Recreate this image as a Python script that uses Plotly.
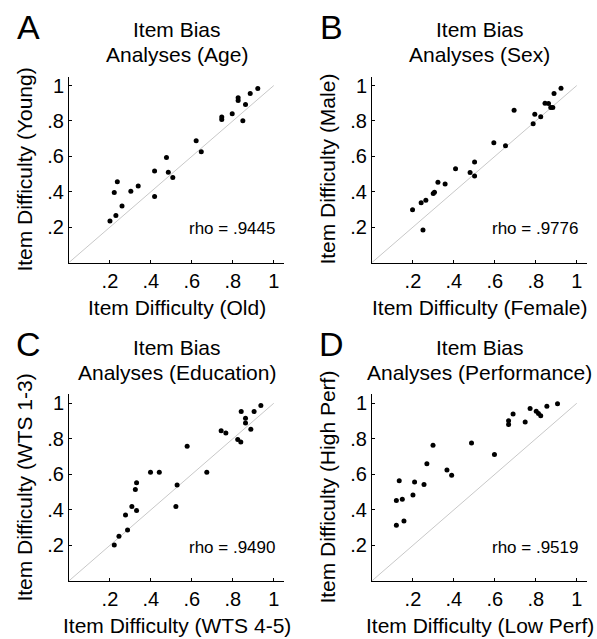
import plotly.graph_objects as go

# Panel A: Age
a_old = [0.200, 0.229, 0.221, 0.236, 0.259, 0.302, 0.338, 0.418, 0.418, 0.476, 0.485, 0.507,
         0.621, 0.646, 0.746, 0.746, 0.797, 0.826, 0.826, 0.849, 0.862, 0.885, 0.922]
a_young = [0.234, 0.266, 0.395, 0.457, 0.320, 0.403, 0.433, 0.373, 0.517, 0.594, 0.510, 0.480,
           0.688, 0.626, 0.822, 0.808, 0.840, 0.931, 0.916, 0.801, 0.893, 0.955, 0.983]
# Panel B: Sex
b_female = [0.198, 0.240, 0.249, 0.263, 0.299, 0.305, 0.322, 0.357, 0.408, 0.479, 0.501, 0.501,
            0.595, 0.652, 0.694, 0.787, 0.795, 0.824, 0.845, 0.862, 0.873, 0.883, 0.889, 0.923]
b_male = [0.298, 0.337, 0.183, 0.352, 0.390, 0.397, 0.453, 0.444, 0.530, 0.508, 0.568, 0.489,
          0.677, 0.660, 0.861, 0.784, 0.838, 0.823, 0.900, 0.898, 0.876, 0.876, 0.955, 0.985]
# Panel C: Education
c_wts45 = [0.221, 0.244, 0.276, 0.286, 0.307, 0.324, 0.330, 0.330, 0.398, 0.441, 0.522, 0.528,
           0.577, 0.673, 0.743, 0.766, 0.824, 0.839, 0.841, 0.862, 0.862, 0.888, 0.904, 0.937]
c_wts13 = [0.202, 0.251, 0.371, 0.286, 0.419, 0.515, 0.553, 0.396, 0.611, 0.611, 0.419, 0.540,
           0.758, 0.611, 0.845, 0.832, 0.796, 0.782, 0.953, 0.916, 0.889, 0.853, 0.953, 0.988]
# Panel D: Performance
d_low = [0.119, 0.119, 0.133, 0.148, 0.156, 0.200, 0.208, 0.254, 0.268, 0.298, 0.366, 0.389,
         0.486, 0.598, 0.667, 0.667, 0.689, 0.748, 0.772, 0.802, 0.813, 0.824, 0.854, 0.906]
d_high = [0.453, 0.313, 0.564, 0.459, 0.337, 0.484, 0.557, 0.542, 0.660, 0.763, 0.624, 0.594,
          0.776, 0.711, 0.902, 0.880, 0.940, 0.895, 0.970, 0.955, 0.942, 0.930, 0.983, 0.998]

tick_vals = [0.2, 0.4, 0.6, 0.8, 1.0]
tick_text = [".2", ".4", ".6", ".8", "1"]
diag = [0, 1]

panels = [
    ("A", "Item Bias", "Analyses (Age)", a_old, a_young, "Item Difficulty (Old)", "Item Difficulty (Young)", "rho = .9445"),
    ("B", "Item Bias", "Analyses (Sex)", b_female, b_male, "Item Difficulty (Female)", "Item Difficulty (Male)", "rho = .9776"),
    ("C", "Item Bias", "Analyses (Education)", c_wts45, c_wts13, "Item Difficulty (WTS 4-5)", "Item Difficulty (WTS 1-3)", "rho = .9490"),
    ("D", "Item Bias", "Analyses (Performance)", d_low, d_high, "Item Difficulty (Low Perf)", "Item Difficulty (High Perf)", "rho = .9519"),
]

W, H = 597, 639
xpx = [(69, 284), (372, 587)]
ypx = [(76.7, 262.5), (394.4, 580.8)]
xdoms = [[a / W, b / W] for a, b in xpx]
ydoms = [[1 - b / H, 1 - a / H] for a, b in ypx]

FONT = "Liberation Sans, Arial, sans-serif"


def px_x(p):
    return p / W


def px_y(p):
    return 1 - p / H


fig = go.Figure()
annotations = []
layout = {}
for i, (letter, t1, t2, xs, ys, xt, yt, rho) in enumerate(panels):
    col, row = i % 2, i // 2
    n = "" if i == 0 else str(i + 1)
    xa, ya = "x" + n, "y" + n
    fig.add_trace(go.Scatter(x=diag, y=diag, mode="lines", xaxis=xa, yaxis=ya,
                             line=dict(color="#c8c8c8", width=1), hoverinfo="skip", showlegend=False))
    fig.add_trace(go.Scatter(x=xs, y=ys, mode="markers", xaxis=xa, yaxis=ya,
                             marker=dict(color="black", size=5), showlegend=False))
    common = dict(range=[0, 1.05], tickvals=tick_vals, ticktext=tick_text, ticks="inside", ticklen=3,
                  tickcolor="black", showline=True, linecolor="black", linewidth=1, showgrid=False,
                  zeroline=False, tickfont=dict(size=20, color="black", family=FONT), fixedrange=True,
                  automargin=False)
    layout["xaxis" + n] = dict(common, domain=xdoms[col], anchor=ya)
    layout["yaxis" + n] = dict(common, domain=ydoms[row], anchor=xa)
    left, right = xpx[col]
    top, bottom = ypx[row]
    xc = (left + right) / 2
    yc = (top + bottom) / 2
    # panel title (two lines)
    annotations.append(dict(text=t1, x=px_x(xc), y=px_y(top - 47), xref="paper", yref="paper",
                            xanchor="center", yanchor="middle", showarrow=False,
                            font=dict(size=21, color="black", family=FONT)))
    annotations.append(dict(text=t2, x=px_x(xc), y=px_y(top - 22), xref="paper", yref="paper",
                            xanchor="center", yanchor="middle", showarrow=False,
                            font=dict(size=21, color="black", family=FONT)))
    # panel letter
    annotations.append(dict(text=letter, x=px_x(left - 41), y=px_y(top - 50), xref="paper", yref="paper",
                            xanchor="center", yanchor="middle", showarrow=False,
                            font=dict(size=34, color="black", family=FONT)))
    # axis titles
    annotations.append(dict(text=xt, x=px_x(xc), y=px_y(bottom + 45), xref="paper", yref="paper",
                            xanchor="center", yanchor="middle", showarrow=False,
                            font=dict(size=21, color="black", family=FONT)))
    annotations.append(dict(text=yt, x=px_x(left - 44), y=px_y(yc), xref="paper", yref="paper",
                            xanchor="center", yanchor="middle", showarrow=False, textangle=-90,
                            font=dict(size=21, color="black", family=FONT)))
    # rho
    annotations.append(dict(text=rho, x=1.02, y=0.19, xref=xa, yref=ya, xanchor="right", yanchor="middle",
                            showarrow=False, font=dict(size=17, color="black", family=FONT)))

fig.update_layout(**layout)
fig.update_layout(width=W, height=H, margin=dict(l=0, r=0, t=0, b=0), plot_bgcolor="white",
                  paper_bgcolor="white", annotations=annotations, font=dict(family=FONT, color="black"))
fig.write_html("out.html", config={"displayModeBar": False},
               post_script="document.body.style.margin='0';document.body.style.overflow='hidden';")
